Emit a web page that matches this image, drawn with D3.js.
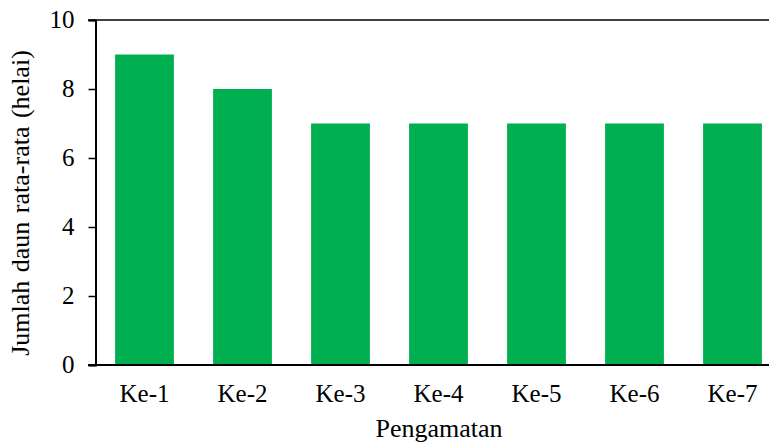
<!DOCTYPE html>
<html>
<head>
<meta charset="utf-8">
<script src="https://cdn.jsdelivr.net/npm/d3@7"></script>
<style>
  body { margin: 0; background: #fff; }
  svg text { font-family: "Liberation Serif", "Times New Roman", serif; fill: #000; }
</style>
</head>
<body>
<script>
// chart data
var categories = ["Ke-1", "Ke-2", "Ke-3", "Ke-4", "Ke-5", "Ke-6", "Ke-7"];
var values = [9, 8, 7, 7, 7, 7, 7];
var yTicks = [0, 2, 4, 6, 8, 10];

var width = 769, height = 443;
var svg = d3.select("body").append("svg")
    .attr("width", width)
    .attr("height", height);

// scales
var x = d3.scaleBand()
    .domain(categories)
    .range([95.5, 781.5])
    .paddingInner(0.4)
    .paddingOuter(0.2);
var y = d3.scaleLinear()
    .domain([0, 10])
    .range([365, 20]);

// top line at max value
svg.append("line")
    .attr("x1", 88).attr("x2", width)
    .attr("y1", y(10)).attr("y2", y(10))
    .attr("stroke", "#000").attr("stroke-width", 1.5);

// bars
svg.selectAll(".bar")
    .data(values)
    .enter().append("rect")
    .attr("class", "bar")
    .attr("x", function (d, i) { return x(categories[i]); })
    .attr("y", function (d) { return y(d); })
    .attr("width", x.bandwidth())
    .attr("height", function (d) { return y(0) - y(d); })
    .attr("fill", "#00B050");

// y axis
var yAxis = svg.append("g")
    .attr("transform", "translate(95.5,0)")
    .call(d3.axisLeft(y).tickValues(yTicks).tickSize(7).tickPadding(14));
yAxis.select(".domain").attr("stroke", "#000").attr("stroke-width", 2);
yAxis.selectAll(".tick line").attr("stroke", "#000").attr("stroke-width", 1.5);
yAxis.selectAll("text").style("font-size", "25px").attr("dy", "0.3em");

// x axis
var xAxis = svg.append("g")
    .attr("transform", "translate(0,365)")
    .call(d3.axisBottom(x).tickSize(0).tickPadding(19));
xAxis.select(".domain").remove();
svg.append("line")
    .attr("x1", 88).attr("x2", width)
    .attr("y1", 365).attr("y2", 365)
    .attr("stroke", "#000").attr("stroke-width", 2);
xAxis.selectAll("text").style("font-size", "25px");

// axis titles
svg.append("text")
    .attr("x", 439).attr("y", 437)
    .attr("text-anchor", "middle")
    .style("font-size", "26px")
    .text("Pengamatan");
svg.append("text")
    .attr("transform", "translate(29,203) rotate(-90)")
    .attr("text-anchor", "middle")
    .style("font-size", "26px")
    .style("word-spacing", "2px")
    .text("Jumlah daun rata-rata (helai)");
</script>
</body>
</html>
